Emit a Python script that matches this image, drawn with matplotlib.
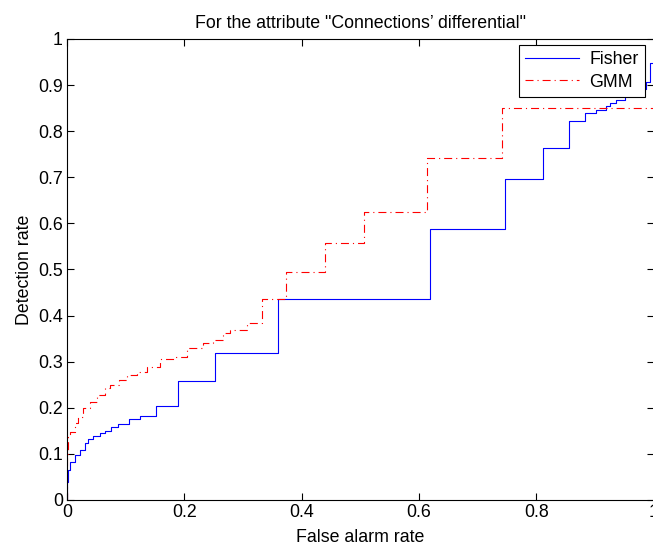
import numpy as np
import matplotlib.pyplot as plt

plt.rcParams['font.family'] = ['Liberation Sans', 'DejaVu Sans']

# Fisher ROC (step points, value holds until next x)
fisher_x = [0, 0, 0.001, 0.005, 0.014, 0.022, 0.031, 0.036, 0.045, 0.056, 0.065,
            0.075, 0.087, 0.106, 0.124, 0.151, 0.19, 0.253, 0.359, 0.618, 0.746,
            0.812, 0.855, 0.883, 0.902, 0.918, 0.925, 0.936, 0.951, 0.965, 0.986,
            0.993, 1.0]
fisher_y = [0, 0.04, 0.065, 0.083, 0.098, 0.108, 0.123, 0.132, 0.139, 0.145, 0.150,
            0.159, 0.164, 0.175, 0.183, 0.204, 0.257, 0.319, 0.436, 0.587, 0.697,
            0.764, 0.823, 0.839, 0.847, 0.855, 0.861, 0.868, 0.879, 0.892, 0.907,
            0.947, 1.0]

# GMM ROC
gmm_x = [0, 0, 0.002, 0.005, 0.014, 0.019, 0.028, 0.039, 0.051, 0.065, 0.073,
         0.088, 0.102, 0.119, 0.136, 0.158, 0.184, 0.204, 0.232, 0.249, 0.266,
         0.278, 0.306, 0.333, 0.374, 0.439, 0.507, 0.613, 0.741, 1.0]
gmm_y = [0, 0.1, 0.137, 0.148, 0.167, 0.181, 0.199, 0.213, 0.228, 0.242, 0.249,
         0.26, 0.271, 0.278, 0.288, 0.306, 0.311, 0.329, 0.34, 0.347, 0.362,
         0.369, 0.383, 0.435, 0.495, 0.557, 0.624, 0.741, 0.851, 0.851]

fs = 12.8

fig = plt.figure(figsize=(6.53, 5.49), dpi=100)
ax = fig.add_axes([0.1026, 0.0893, 0.8985, 0.8397])

ax.plot(fisher_x, fisher_y, color='#0000ff', lw=0.8, drawstyle='steps-post', label='Fisher')
ax.plot(gmm_x, gmm_y, color='#ff0000', lw=0.8, drawstyle='steps-post',
        linestyle=(0, (7.2, 3.6, 1, 3.6)), label='GMM')

ax.set_xlim(0, 1)
ax.set_ylim(0, 1)
ax.set_xticks(np.arange(0, 1.01, 0.2))
ax.set_yticks(np.arange(0, 1.01, 0.1))
ax.set_xticklabels(['0', '0.2', '0.4', '0.6', '0.8', '1'])
ax.set_yticklabels(['0', '0.1', '0.2', '0.3', '0.4', '0.5', '0.6', '0.7', '0.8', '0.9', '1'])
ax.tick_params(direction='in', top=True, right=True, length=5, width=0.8,
               labelsize=fs, pad=3)
for s in ax.spines.values():
    s.set_linewidth(0.8)

ax.set_xlabel('False alarm rate', fontsize=fs, labelpad=6)
ax.set_ylabel('Detection rate', fontsize=fs, labelpad=4)
ax.set_title('For the attribute "Connections\u2019 differential"', fontsize=fs, pad=8)

leg = ax.legend(loc='upper right', bbox_to_anchor=(0.985, 0.987), borderaxespad=0,
                fancybox=False, framealpha=1, edgecolor='black', fontsize=fs,
                handlelength=3.0, borderpad=0.35, labelspacing=0.3, handletextpad=0.6)
leg.get_frame().set_linewidth(0.8)

fig.savefig('out.png', dpi=100)
